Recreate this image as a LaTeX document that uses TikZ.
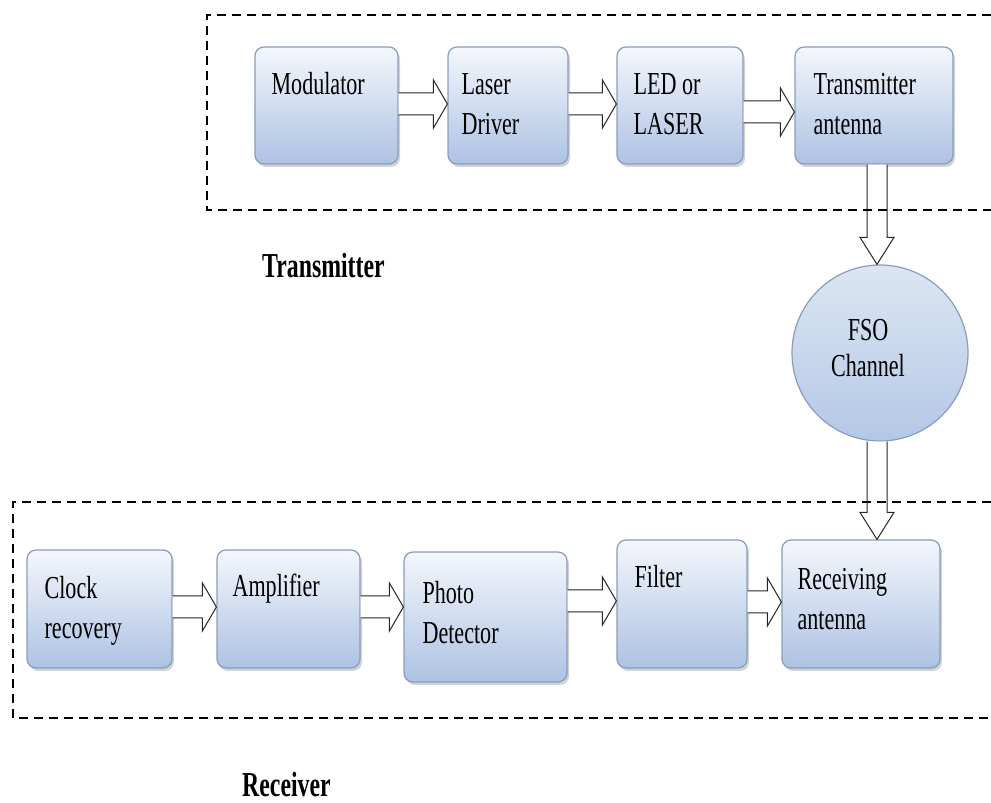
\documentclass[tikz,border=0pt]{standalone}
\usepackage{fontspec}
\setmainfont{Liberation Serif}
\newfontfamily\boxfont[FakeStretch=0.69]{Liberation Serif}
\newfontfamily\labfont[FakeStretch=0.68]{Liberation Serif}
\usetikzlibrary{calc,shadows}
\definecolor{boxtop}{HTML}{F4F7FC}
\definecolor{boxbot}{HTML}{ADC2E3}
\definecolor{boxedge}{HTML}{8A9CBB}
\definecolor{circtop}{HTML}{DCE6F3}
\definecolor{circbot}{HTML}{B3C8E6}
\tikzset{
  blockbox/.style={rectangle, rounded corners=9pt, draw=boxedge, line width=1.2pt,
    top color=boxtop, bottom color=boxbot, inner sep=0pt,
    drop shadow={shadow xshift=2pt, shadow yshift=-3pt, opacity=0.35}},
  chan/.style={circle, draw=boxedge, line width=1.2pt, top color=circtop,
    bottom color=circbot, minimum size=176pt, inner sep=0pt},
  boxtext/.style={anchor=north west, inner sep=0pt, align=left,
    font=\boxfont\fontsize{32}{40}\selectfont},
  chantext/.style={anchor=north, inner sep=0pt, align=center,
    font=\boxfont\fontsize{32}{36}\selectfont},
  blk/.style={draw=black!85, fill=white, line width=1pt, line join=miter},
  frame/.style={draw=black, line width=2.2pt, dash pattern=on 9pt off 6pt},
  lab/.style={anchor=base west, inner sep=0pt,
    font=\labfont\bfseries\fontsize{35}{40}\selectfont}
}
\newcommand\harr[3]{%
  \filldraw[blk] let \p1=(#1.east), \p2=(#2.west) in
    (\x1,#3pt+11pt) -- (\x2-14pt,#3pt+11pt) -- (\x2-14pt,#3pt+24pt) -- (\x2,#3pt)
    -- (\x2-14pt,#3pt-24pt) -- (\x2-14pt,#3pt-11pt) -- (\x1,#3pt-11pt);}
\newcommand\varr[3]{%
  \filldraw[blk] let \p1=(#1.south), \p2=(#2.north) in
    (#3pt-10pt,\y1) -- (#3pt-10pt,\y2+27pt) -- (#3pt-17pt,\y2+27pt) -- (#3pt,\y2)
    -- (#3pt+17pt,\y2+27pt) -- (#3pt+10pt,\y2+27pt) -- (#3pt+10pt,\y1);}
\begin{document}
\begin{tikzpicture}[x=1pt,y=1pt]
\useasboundingbox (0,0) rectangle (991,803);
% transmitter row
\node[blockbox, minimum width=143pt, minimum height=117pt] (mod) at (326.5,697.5) {};
\node[blockbox, minimum width=120pt, minimum height=117pt] (ld) at (508,697.5) {};
\node[blockbox, minimum width=126pt, minimum height=117pt] (led) at (680,697.5) {};
\node[blockbox, minimum width=158pt, minimum height=117pt] (ta) at (874,697.5) {};
% channel
\node[chan] (fso) at (880,450) {};
% receiver row
\node[blockbox, minimum width=145pt, minimum height=118pt] (clk) at (99.5,194) {};
\node[blockbox, minimum width=143pt, minimum height=118pt] (amp) at (288.5,194) {};
\node[blockbox, minimum width=163pt, minimum height=130pt] (pd) at (485.5,186) {};
\node[blockbox, minimum width=130pt, minimum height=128pt] (flt) at (682,199) {};
\node[blockbox, minimum width=158pt, minimum height=128pt] (rx) at (861,199) {};
% texts
\node[boxtext] (tmod) at ($(mod.north west)+(17,-26)$) {Modulator};
\node[boxtext] (tld) at ($(ld.north west)+(14,-27)$) {Laser\\Driver};
\node[boxtext] (tled) at ($(led.north west)+(17,-27)$) {LED or\\LASER};
\node[boxtext] (tta) at ($(ta.north west)+(19,-27)$) {Transmitter\\antenna};
\node[chantext] (tfso) at ($(fso.center)+(-12,34)$) {FSO\\Channel};
\node[boxtext] (tclk) at ($(clk.north west)+(18,-27)$) {Clock\\recovery};
\node[boxtext] (tamp) at ($(amp.north west)+(16,-24)$) {Amplifier};
\node[boxtext] (tpd) at ($(pd.north west)+(19,-30)$) {Photo\\Detector};
\node[boxtext] (tflt) at ($(flt.north west)+(18,-26)$) {Filter};
\node[boxtext] (trx) at ($(rx.north west)+(16,-29)$) {Receiving\\antenna};
% arrows
\harr{mod}{ld}{699}
\harr{ld}{led}{699}
\harr{led}{ta}{691}
\varr{ta}{fso}{877}
\varr{fso}{rx}{877}
\harr{clk}{amp}{196}
\harr{amp}{pd}{196}
\harr{pd}{flt}{202}
\harr{flt}{rx}{201}
% frames
\draw[frame] (991,788) -- (207,788) -- (207,593) -- (991,593);
\draw[frame] (991,301) -- (13,301) -- (13,85) -- (991,85);
% labels
\node[lab] (txl) at (262,525) {Transmitter};
\node[lab] (rxl) at (242,6) {Receiver};
\end{tikzpicture}
\end{document}
